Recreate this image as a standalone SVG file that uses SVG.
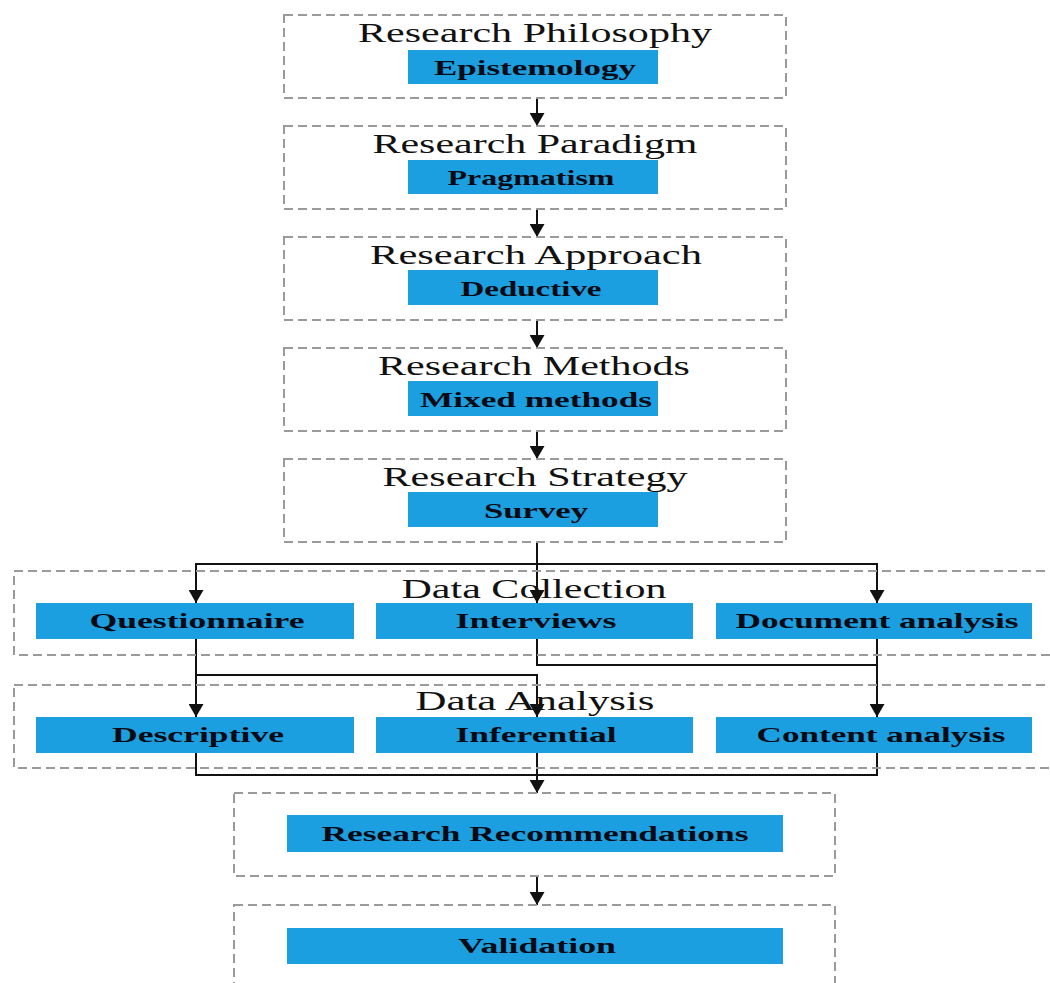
<svg xmlns="http://www.w3.org/2000/svg" width="1050" height="983" viewBox="0 0 1050 983">
<defs>
<style>
.frame{fill:none;stroke:#9a9a9a;stroke-width:2;stroke-dasharray:9 5}
.blue{fill:#1b9fe0}
.title{font-family:"Liberation Serif","Times New Roman",serif;font-size:28px;fill:#111;text-anchor:middle}
.lab{font-family:"Liberation Serif","Times New Roman",serif;font-size:22px;font-weight:bold;fill:#0a0a14;text-anchor:middle}
.ln{fill:none;stroke:#111;stroke-width:2}
</style>
<marker id="ad" markerUnits="userSpaceOnUse" markerWidth="15" markerHeight="13" refX="7.5" refY="13" orient="0" viewBox="0 0 15 13">
<path d="M0,0 L15,0 L7.5,13 Z" fill="#111"/>
</marker>
</defs>
<rect width="1050" height="983" fill="#fff"/>

<g id="connectors">
<line class="ln" x1="537" y1="98" x2="537" y2="126" marker-end="url(#ad)"/>
<line class="ln" x1="537" y1="209" x2="537" y2="237" marker-end="url(#ad)"/>
<line class="ln" x1="537" y1="320" x2="537" y2="348" marker-end="url(#ad)"/>
<line class="ln" x1="537" y1="431" x2="537" y2="459" marker-end="url(#ad)"/>
<line class="ln" x1="537" y1="542" x2="537" y2="603" marker-end="url(#ad)"/>
<polyline class="ln" points="537,564 196,564 196,603" marker-end="url(#ad)"/>
<polyline class="ln" points="537,564 877,564 877,603" marker-end="url(#ad)"/>
<line class="ln" x1="196" y1="639" x2="196" y2="717" marker-end="url(#ad)"/>
<polyline class="ln" points="196,675 537,675 537,717" marker-end="url(#ad)"/>
<polyline class="ln" points="537,639 537,665 877,665"/>
<line class="ln" x1="877" y1="639" x2="877" y2="717" marker-end="url(#ad)"/>
<polyline class="ln" points="196,753 196,775 877,775 877,753"/>
<line class="ln" x1="537" y1="753" x2="537" y2="793" marker-end="url(#ad)"/>
<line class="ln" x1="537" y1="876" x2="537" y2="905" marker-end="url(#ad)"/>
</g>

<g id="philosophy">
<rect class="frame" x="284" y="15" width="502" height="83"/>
<text class="title" x="535" y="42" textLength="354" lengthAdjust="spacingAndGlyphs">Research Philosophy</text>
<rect class="blue" x="408" y="50" width="250" height="34"/>
<text class="lab" x="535" y="75" textLength="202" lengthAdjust="spacingAndGlyphs">Epistemology</text>
</g>
<g id="paradigm">
<rect class="frame" x="284" y="126" width="502" height="83"/>
<text class="title" x="535" y="153" textLength="325" lengthAdjust="spacingAndGlyphs">Research Paradigm</text>
<rect class="blue" x="408" y="160" width="250" height="34"/>
<text class="lab" x="531" y="185" textLength="167" lengthAdjust="spacingAndGlyphs">Pragmatism</text>
</g>
<g id="approach">
<rect class="frame" x="284" y="237" width="502" height="83"/>
<text class="title" x="536" y="264" textLength="332" lengthAdjust="spacingAndGlyphs">Research Approach</text>
<rect class="blue" x="408" y="270" width="250" height="35"/>
<text class="lab" x="531" y="296" textLength="141" lengthAdjust="spacingAndGlyphs">Deductive</text>
</g>
<g id="methods">
<rect class="frame" x="284" y="348" width="502" height="83"/>
<text class="title" x="534" y="375" textLength="312" lengthAdjust="spacingAndGlyphs">Research Methods</text>
<rect class="blue" x="408" y="381" width="250" height="35"/>
<text class="lab" x="536" y="407" textLength="232" lengthAdjust="spacingAndGlyphs">Mixed methods</text>
</g>
<g id="strategy">
<rect class="frame" x="284" y="459" width="502" height="83"/>
<text class="title" x="535" y="486" textLength="305" lengthAdjust="spacingAndGlyphs">Research Strategy</text>
<rect class="blue" x="408" y="492" width="250" height="35"/>
<text class="lab" x="536" y="518" textLength="104" lengthAdjust="spacingAndGlyphs">Survey</text>
</g>

<g id="data-collection">
<rect class="frame" x="14" y="571" width="1050" height="84"/>
<text class="title" x="534" y="598" textLength="265" lengthAdjust="spacingAndGlyphs">Data Collection</text>
</g>
<g id="questionnaire">
<rect class="blue" x="36" y="603" width="318" height="36"/>
<text class="lab" x="197" y="628" textLength="215" lengthAdjust="spacingAndGlyphs">Questionnaire</text>
</g>
<g id="interviews">
<rect class="blue" x="376" y="603" width="317" height="36"/>
<text class="lab" x="536" y="628" textLength="161" lengthAdjust="spacingAndGlyphs">Interviews</text>
</g>
<g id="document-analysis">
<rect class="blue" x="716" y="603" width="316" height="36"/>
<text class="lab" x="877" y="628" textLength="283" lengthAdjust="spacingAndGlyphs">Document analysis</text>
</g>

<g id="data-analysis">
<rect class="frame" x="14" y="685" width="1050" height="83"/>
<text class="title" x="535" y="710" textLength="239" lengthAdjust="spacingAndGlyphs">Data Analysis</text>
</g>
<g id="descriptive">
<rect class="blue" x="36" y="717" width="318" height="36"/>
<text class="lab" x="198" y="742" textLength="172" lengthAdjust="spacingAndGlyphs">Descriptive</text>
</g>
<g id="inferential">
<rect class="blue" x="376" y="717" width="317" height="36"/>
<text class="lab" x="536" y="742" textLength="161" lengthAdjust="spacingAndGlyphs">Inferential</text>
</g>
<g id="content-analysis">
<rect class="blue" x="716" y="717" width="316" height="36"/>
<text class="lab" x="881" y="742" textLength="249" lengthAdjust="spacingAndGlyphs">Content analysis</text>
</g>

<g id="recommendations">
<rect class="frame" x="234" y="793" width="601" height="83"/>
<rect class="blue" x="287" y="815" width="496" height="37"/>
<text class="lab" x="535" y="841" textLength="427" lengthAdjust="spacingAndGlyphs">Research Recommendations</text>
</g>
<g id="validation">
<rect class="frame" x="234" y="905" width="601" height="100"/>
<rect class="blue" x="287" y="928" width="496" height="36"/>
<text class="lab" x="537" y="953" textLength="158" lengthAdjust="spacingAndGlyphs">Validation</text>
</g>
</svg>
